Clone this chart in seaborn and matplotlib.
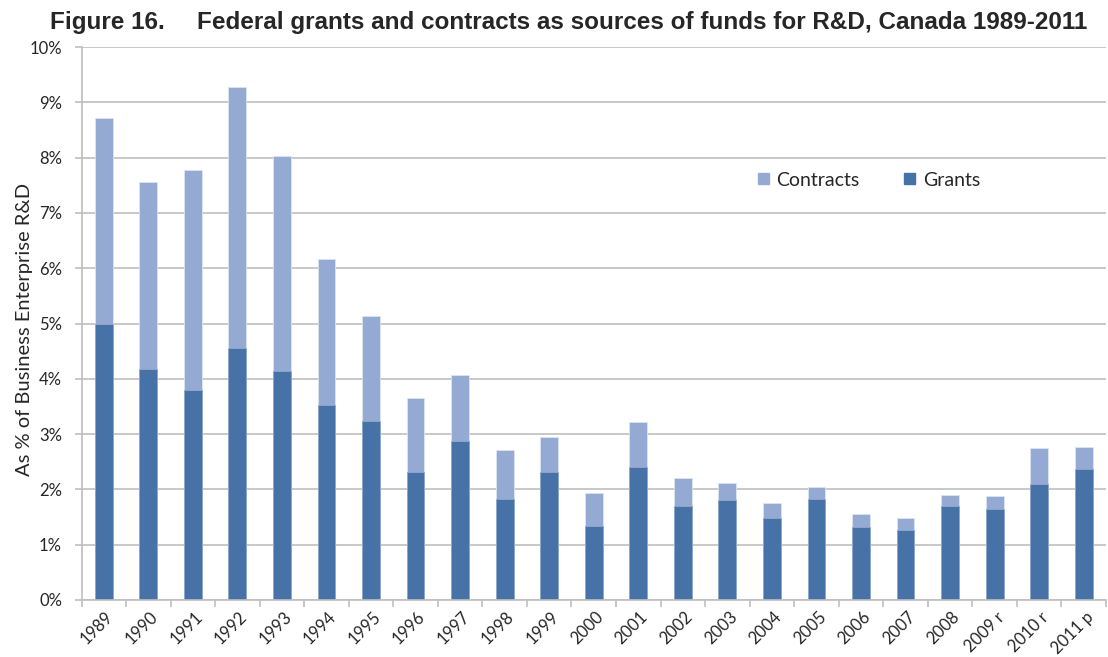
import matplotlib
matplotlib.use("Agg")
import matplotlib.pyplot as plt
import matplotlib.transforms as mtransforms
from matplotlib.patches import Patch
import seaborn as sns
import pandas as pd

years = ["1989", "1990", "1991", "1992", "1993", "1994", "1995", "1996", "1997", "1998", "1999",
         "2000", "2001", "2002", "2003", "2004", "2005", "2006", "2007", "2008", "2009 r", "2010 r", "2011 p"]
# grants as % of BERD
grants = [5.00, 4.17, 3.80, 4.55, 4.15, 3.53, 3.24, 2.31, 2.88, 1.83, 2.31,
          1.33, 2.40, 1.70, 1.80, 1.49, 1.83, 1.32, 1.27, 1.70, 1.64, 2.09, 2.36]
# contracts as % of BERD (stacked on top of grants)
contracts = [3.71, 3.38, 3.98, 4.72, 3.88, 2.64, 1.90, 1.34, 1.18, 0.88, 0.64,
             0.60, 0.81, 0.50, 0.32, 0.27, 0.21, 0.23, 0.22, 0.20, 0.24, 0.65, 0.41]

totals = [g + c for g, c in zip(grants, contracts)]
df = pd.DataFrame({"year": years, "grants": grants, "contracts": contracts, "total": totals})

grantColor = "#4672A8"
contractColor = "#95AAD2"
gridColor = "#BFBFBF"
textColor = "#262626"

sns.set_theme(style="white")
plt.rcParams["font.family"] = ["Lato", "DejaVu Sans"]

fig = plt.figure(figsize=(11.08, 6.57), dpi=100)
ax = fig.add_axes([81.5 / 1108, 57 / 657, (1106 - 81.5) / 1108, 553 / 657])

# stacked bars: total (light) underneath, grants (dark) drawn over it
sns.barplot(data=df, x="year", y="total", color=contractColor, width=0.4,
            saturation=1, edgecolor="#DCE4F0", linewidth=0.6, ax=ax)
sns.barplot(data=df, x="year", y="grants", color=grantColor, width=0.4,
            saturation=1, edgecolor="#8FA8CC", linewidth=0.6, ax=ax)

ax.set_ylim(0, 10)
ax.set_xlim(-0.5, (1106 - 104) / 45)
ax.set_yticks(range(0, 11))
ax.set_yticklabels([f"{v}%" for v in range(0, 11)], fontsize=12, color=textColor)
ax.yaxis.grid(True, color=gridColor, linewidth=1.2)
ax.set_axisbelow(True)

# category labels at centres, tick marks at boundaries like Excel
ax.set_xticks(range(len(years)))
ax.set_xticks([i - 0.5 for i in range(len(years) + 1)], minor=True)
ax.tick_params(axis="x", which="major", length=0, pad=4)
ax.tick_params(axis="x", which="minor", length=5, color=gridColor, width=1.2, direction="out", bottom=True)
ax.tick_params(axis="y", length=5, color=gridColor, width=1.2, direction="out", left=True, pad=9)
ax.set_xticklabels(years, rotation=45, ha="right", va="center",
                   rotation_mode="anchor", fontsize=12, color=textColor)
# nudge labels (after tick_params, which resets label transforms)
offset = mtransforms.ScaledTranslation(7 / 100, -9 / 100, fig.dpi_scale_trans)
for lbl in ax.get_xticklabels():
    lbl.set_transform(lbl.get_transform() + offset)

for side in ["top", "right"]:
    ax.spines[side].set_visible(False)
for side in ["left", "bottom"]:
    ax.spines[side].set_color(gridColor)
    ax.spines[side].set_linewidth(1.2)

ax.set_xlabel("")
ax.set_ylabel("As % of Business Enterprise R&D", fontsize=14.5, color=textColor)
ax.yaxis.set_label_coords(-0.047, 0.49)

handles = [Patch(color=contractColor, label="Contracts"), Patch(color=grantColor, label="Grants")]
fig.legend(handles=handles, loc="center", bbox_to_anchor=(869 / 1108, 1 - 180 / 657), ncol=2,
           frameon=False, fontsize=14, handlelength=0.55, handleheight=0.55, handletextpad=0.4,
           columnspacing=2.3, labelcolor=textColor)

titleFont = dict(fontsize=17.5, fontweight="bold", family=["Liberation Sans", "DejaVu Sans"], va="baseline")
fig.text(50 / 1108, 1 - 28.5 / 657, "Figure 16.", ha="left", **titleFont)
fig.text(197 / 1108, 1 - 28.5 / 657, "Federal grants and contracts as sources of funds for R&D, Canada 1989-2011",
         ha="left", **titleFont)

fig.savefig("out.png", dpi=100)
